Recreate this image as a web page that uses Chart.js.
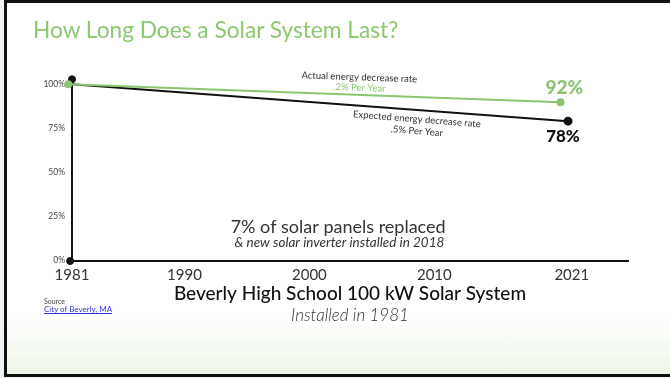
<!DOCTYPE html>
<html>
<head>
<meta charset="utf-8">
<script src="https://cdn.jsdelivr.net/npm/chart.js@4.4.1/dist/chart.umd.min.js"></script>
<style>
  html, body { margin: 0; padding: 0; background: #f2f2f2; }
  #slide {
    position: absolute; left: 4px; top: 0; width: 670px; height: 377px;
    box-sizing: border-box;
    border-left: 3px solid #111; border-top: 3px solid #111; border-bottom: 3px solid #111;
    background: linear-gradient(to bottom, #ffffff 0px, #ffffff 312px, #edf5e8 374px);
  }
  #wrap { position: absolute; left: 0; top: 0; width: 670px; height: 378px; }
  .txt { position: absolute; font-family: Lato, "Noto Sans", sans-serif; white-space: nowrap; }
  #title { left: 33px; top: 16px; font-size: 22.7px; color: #8cc870; }
  #sub { left: 0; width: 700px; text-align: center; top: 304px; font-size: 17px; font-style: italic; color: #333; font-weight: 300; }
  #src { left: 44px; top: 297px; font-size: 7px; color: #444; }
  #srcLink { left: 44px; top: 304px; font-size: 8px; color: #3535e8; text-decoration: underline; }
</style>
</head>
<body>
<div id="slide"></div>
<div id="wrap"><canvas id="chart" width="670" height="378"></canvas></div>
<div class="txt" id="title">How Long Does a Solar System Last?</div>
<div class="txt" id="sub">Installed in 1981</div>
<div class="txt" id="src">Source</div>
<div class="txt" id="srcLink">City of Beverly, MA</div>
<script>
  // 데이터
  const yearTicks = [1981, 1990, 2000, 2010, 2021];
  const pctTicks = [0, 25, 50, 75, 100];
  const actualYears = [1980.7, 2020.1];
  const actualPct = [100, 89.8];
  const expectedYears = [1981, 2020.7];
  const expectedPct = [100, 79];
  // 축 끝 점 (위쪽, 원점)
  const axisDotYears = [1981, 1980.85];
  const axisDotPct = [102.8, -0.6];

  const green = "#8cc472";
  const dark = "#111111";

  // 차트 안의 주석 텍스트 (데이터 좌표 기준)
  const notes = [
    { text: "Actual energy decrease rate", x: 2004.0, y: 104.0, rot: 2, font: "9.5px Lato", color: "#333" },
    { text: ".2% Per Year", x: 2004.0, y: 98.0, rot: 2, font: "9.5px Lato", color: green },
    { text: "Expected energy decrease rate", x: 2008.6, y: 80.1, rot: 4.5, font: "9.5px Lato", color: "#333" },
    { text: ".5% Per Year", x: 2008.6, y: 73.3, rot: 4.5, font: "9.5px Lato", color: "#333" },
    { text: "92%", x: 2020.4, y: 98.0, rot: 0, font: "900 19px Lato", color: green },
    { text: "78%", x: 2020.3, y: 70.5, rot: 0, font: "900 17px Lato", color: dark },
    { text: "7% of solar panels replaced", x: 2002.3, y: 18.8, rot: 0, font: "18px Lato", color: "#333" },
    { text: "& new solar inverter installed in 2018", x: 2002.4, y: 9.6, rot: 0, font: "italic 13.5px Lato", color: "#333" },
  ];

  const notePlugin = {
    id: "notes",
    afterDatasetsDraw(chart) {
      const c = chart.ctx;
      const xs = chart.scales.x, ys = chart.scales.y;
      notes.forEach((n) => {
        c.save();
        c.translate(xs.getPixelForValue(n.x), ys.getPixelForValue(n.y));
        c.rotate((n.rot * Math.PI) / 180);
        c.font = n.font;
        c.fillStyle = n.color;
        c.textAlign = "center";
        c.textBaseline = "middle";
        c.fillText(n.text, 0, 0);
        c.restore();
      });
    },
  };

  const toPts = (xs, ys) => xs.map((x, i) => ({ x: x, y: ys[i] }));

  new Chart(document.getElementById("chart"), {
    type: "line",
    data: {
      datasets: [
        {
          label: "Actual",
          data: toPts(actualYears, actualPct),
          borderColor: green,
          backgroundColor: green,
          borderWidth: 2,
          pointRadius: 3,
          clip: false,
        },
        {
          label: "Expected",
          data: toPts(expectedYears, expectedPct),
          borderColor: dark,
          backgroundColor: dark,
          borderWidth: 2,
          pointRadius: [0, 3.5],
          clip: false,
        },
        {
          label: "Axis",
          data: toPts(axisDotYears, axisDotPct),
          borderColor: dark,
          backgroundColor: dark,
          pointRadius: 3.5,
          showLine: false,
          clip: false,
        },
      ],
    },
    options: {
      responsive: false,
      animation: false,
      layout: { padding: { top: 79, right: 42, bottom: 69, left: 0 } },
      plugins: { legend: { display: false }, tooltip: { enabled: false } },
      scales: {
        x: {
          type: "linear",
          min: 1981,
          max: 2025.5,
          afterBuildTicks: (s) => { s.ticks = yearTicks.map((v) => ({ value: v })); },
          afterFit: (s) => { s.height = 48; },
          ticks: {
            color: "#333",
            font: { family: "Lato", size: 15 },
            padding: 5,
            maxRotation: 0,
            autoSkip: false,
            callback: (v) => String(v),
          },
          grid: { display: false, drawTicks: false },
          border: { display: true, color: dark, width: 2 },
          title: {
            display: true,
            text: "Beverly High School 100 kW Solar System",
            color: "#111",
            font: { family: "Lato", size: 19, weight: "500" },
            padding: { top: 0, bottom: 4 },
          },
        },
        y: {
          min: -0.6,
          max: 103,
          afterBuildTicks: (s) => { s.ticks = pctTicks.map((v) => ({ value: v })); },
          afterFit: (s) => { s.width = 72; },
          ticks: {
            color: "#444",
            font: { family: "Lato", size: 8.5 },
            padding: 7,
            callback: (v) => v + "%",
          },
          grid: { display: false, drawTicks: false },
          border: { display: true, color: dark, width: 2 },
        },
      },
    },
    plugins: [notePlugin],
  });
</script>
</body>
</html>
